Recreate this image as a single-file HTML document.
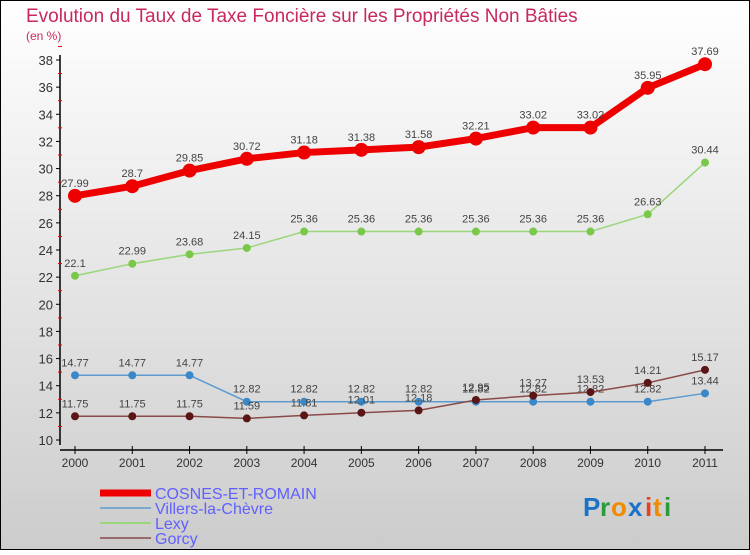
<!DOCTYPE html>
<html><head><meta charset="utf-8"><style>
body{margin:0;width:750px;height:550px;overflow:hidden;font-family:"Liberation Sans",sans-serif}
</style></head><body>
<svg id="chart" width="750" height="550" xmlns="http://www.w3.org/2000/svg" font-family="Liberation Sans, sans-serif">
<defs><linearGradient id="bg" x1="0" y1="0" x2="0" y2="1"><stop offset="0" stop-color="#ffffff"/><stop offset="1" stop-color="#cccccc"/></linearGradient></defs>
<rect x="0.5" y="0.5" width="749" height="549" fill="url(#bg)" stroke="#000" stroke-width="1"/>
<text x="26" y="22" font-size="19" fill="#c8285e">Evolution du Taux de Taxe Foncière sur les Propriétés Non Bâties</text>
<text x="26" y="40" font-size="12" fill="#c8285e">(en %)</text>
<g id="axes"></g>
<g id="series"></g>
<g id="legend"></g>
<g font-size="26" font-weight="bold">
<text x="583" y="516" fill="#1a73c9">P</text><text x="600" y="516" fill="#2a9a3a">r</text><text x="611" y="516" fill="#f08a00">o</text><text x="628" y="516" fill="#1a73c9">x</text><text x="645" y="516" fill="#e8401a">i</text><text x="653" y="516" fill="#f08a00">t</text><text x="664" y="516" fill="#2a9a3a">i</text>
</g>
</svg>
<script>
const years=[2000,2001,2002,2003,2004,2005,2006,2007,2008,2009,2010,2011];
const cosnes=[27.99,28.7,29.85,30.72,31.18,31.38,31.58,32.21,33.02,33.02,35.95,37.69];
const villers=[14.77,14.77,14.77,12.82,12.82,12.82,12.82,12.82,12.82,12.82,12.82,13.44];
const lexy=[22.1,22.99,23.68,24.15,25.36,25.36,25.36,25.36,25.36,25.36,26.63,30.44];
const gorcy=[11.75,11.75,11.75,11.59,11.81,12.01,12.18,12.95,13.27,13.53,14.21,15.17];
const yTicks=[10,12,14,16,18,20,22,24,26,28,30,32,34,36,38];
const NS="http://www.w3.org/2000/svg";
const X=i=>75+i*(630/11);
const Y=v=>440-(v-10)*(380/28);
function mk(tag,attrs,parent){const e=document.createElementNS(NS,tag);for(const k in attrs)e.setAttribute(k,attrs[k]);parent.appendChild(e);return e;}
const axes=document.getElementById('axes');
const ax=mk('line',{x1:60,y1:55,x2:60,y2:445,stroke:'#000','stroke-width':1.5},axes);


yTicks.forEach(v=>{
  mk('line',{x1:56,x2:60,y1:Y(v),y2:Y(v),stroke:'#000'},axes);
  mk('line',{x1:58,x2:62,y1:Y(v+1),y2:Y(v+1),stroke:'#e00'},axes);
  const t=mk('text',{x:53,y:Y(v)+5,'text-anchor':'end','font-size':13,fill:'#333'},axes);
  
  
  t.textContent=v;
});
const xa=mk('line',{x1:60,y1:450,x2:723,y2:450,stroke:'#000','stroke-width':1.5},axes);


years.forEach((y,i)=>{
  mk('line',{x1:X(i),x2:X(i),y1:446,y2:454,stroke:'#000'},axes);
  const t=mk('text',{x:X(i),y:467,'text-anchor':'middle','font-size':12,fill:'#333'},axes);
  
  
  t.textContent=y;
});
const series=[
 {name:'villers',data:villers,color:'#5b9bd0',dot:'#3b88c8',w:1.5,r:4},
 {name:'gorcy',data:gorcy,color:'#8b4a4a',dot:'#5a1515',w:1.5,r:4},
 {name:'lexy',data:lexy,color:'#9ad67a',dot:'#7ac84a',w:1.5,r:4},
 {name:'cosnes',data:cosnes,color:'#ee0000',dot:'#ee0000',w:7,r:7}
];
const sg=document.getElementById('series');
series.forEach(s=>{
  const p=mk('polyline',{points:s.data.map((v,i)=>X(i)+','+Y(v)).join(' '),fill:'none',stroke:s.color,'stroke-width':s.w},sg);
  
  
  s.data.forEach((v,i)=>{
    const c=mk('circle',{cx:X(i),cy:Y(v),r:s.r,fill:s.dot},sg);
    
    
    const t=mk('text',{x:X(i),y:Y(v)-9,'text-anchor':'middle','font-size':11,fill:'#444'},sg);
    
    
    t.textContent=v;
  });
});
const lg=document.getElementById('legend');
const leg=[['COSNES-ET-ROMAIN','#ee0000',7],['Villers-la-Chèvre','#7aaad0',2],['Lexy','#9ad67a',2],['Gorcy','#9a6a6a',2]];
leg.forEach((l,i)=>{
  const y=493+i*15;
  const ln=mk('line',{x1:100,x2:151,y1:y,y2:y,stroke:l[1],'stroke-width':l[2]},lg);
  
  
  const t=mk('text',{x:155,y:y+6,'font-size':16,fill:'#6060ff'},lg);
  
  
  t.textContent=l[0];
});
</script>
</body></html>
